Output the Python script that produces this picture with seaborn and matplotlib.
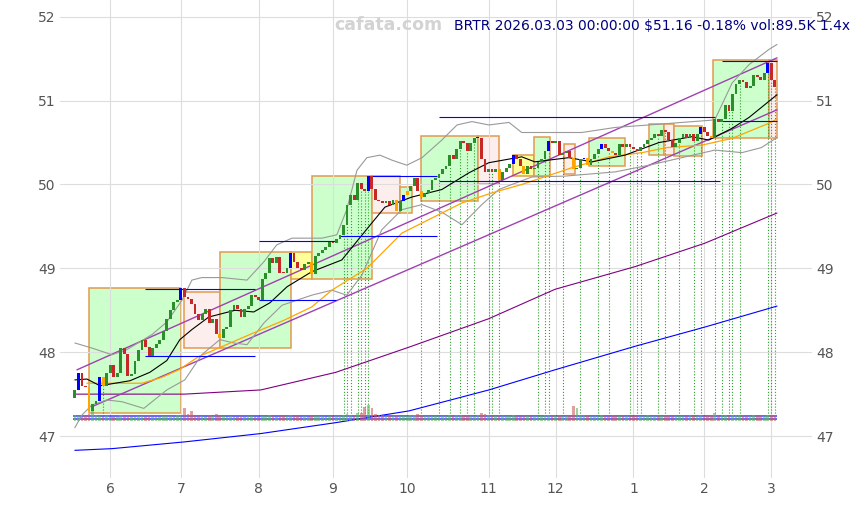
import matplotlib
matplotlib.use("Agg")
import matplotlib.pyplot as plt
from matplotlib.patches import Rectangle
import seaborn as sns
import numpy as np
import pandas as pd

sns.set_theme(style="whitegrid")

# trading days shown on the chart (x axis is the bar index)
holidays = ["2025-05-26", "2025-06-19", "2025-07-04", "2025-09-01", "2025-11-27",
            "2025-12-25", "2026-01-01", "2026-01-19", "2026-02-16"]
dates = pd.bdate_range("2025-05-16", "2026-03-03", freq="C", holidays=holidays)

# daily closes
closes = [
    47.55, 47.75, 47.60, 47.58, 47.30, 47.38, 47.42, 47.70, 47.60, 47.75,
    47.85, 47.70, 47.75, 48.05, 47.98, 47.72, 47.74, 47.90, 48.03, 48.15,
    48.06, 47.95, 48.05, 48.10, 48.14, 48.25, 48.40, 48.50, 48.60, 48.62,
    48.77, 48.66, 48.64, 48.58, 48.46, 48.38, 48.45, 48.52, 48.35, 48.40,
    48.22, 48.17, 48.28, 48.30, 48.50, 48.56, 48.52, 48.42, 48.52, 48.55,
    48.68, 48.66, 48.62, 48.87, 48.95, 49.12, 49.06, 49.13, 48.95, 48.94,
    49.00, 49.18, 49.08, 49.00, 48.98, 49.05, 49.07, 48.93, 49.15, 49.18,
    49.22, 49.25, 49.32, 49.30, 49.35, 49.40, 49.52, 49.75, 49.88, 49.82,
    50.02, 49.95, 49.92, 50.10, 49.95, 49.82, 49.80, 49.78, 49.80, 49.75,
    49.82, 49.68, 49.80, 49.88, 49.92, 49.98, 50.08, 49.92, 49.85, 49.90,
    49.93, 50.05, 50.08, 50.12, 50.18, 50.22, 50.35, 50.30, 50.42, 50.52,
    50.50, 50.40, 50.50, 50.55, 50.56, 50.30, 50.15, 50.18, 50.15, 50.18,
    50.05, 50.15, 50.20, 50.25, 50.35, 50.30, 50.22, 50.12, 50.22, 50.18,
    50.20, 50.27, 50.30, 50.40, 50.52, 50.50, 50.52, 50.35, 50.38, 50.40,
    50.32, 50.18, 50.20, 50.30, 50.32, 50.23, 50.30, 50.36, 50.42, 50.48,
    50.43, 50.40, 50.38, 50.35, 50.48, 50.45, 50.48, 50.45, 50.42, 50.40,
    50.45, 50.48, 50.53, 50.55, 50.60, 50.58, 50.65, 50.62, 50.53, 50.45,
    50.50, 50.55, 50.60, 50.55, 50.60, 50.52, 50.60, 50.68, 50.62, 50.58,
    50.55, 50.78, 50.75, 50.78, 50.95, 50.88, 51.08, 51.20, 51.25, 51.22,
    51.15, 51.18, 51.30, 51.28, 51.25, 51.33, 51.45, 51.25, 51.16,
]
first_open = 47.45

# volume in thousands
volumes = [
    95, 80, 70, 85, 110, 260, 90, 75, 70, 80,
    65, 70, 60, 90, 75, 85, 70, 65, 80, 75,
    70, 85, 60, 65, 70, 75, 80, 85, 70, 90,
    95, 200, 110, 150, 85, 75, 80, 70, 90, 75,
    105, 95, 80, 70, 75, 70, 65, 80, 70, 75,
    80, 70, 65, 85, 75, 90, 80, 70, 85, 75,
    80, 95, 85, 80, 70, 75, 70, 90, 85, 80,
    75, 70, 85, 80, 75, 80, 95, 110, 100, 90,
    120, 130, 220, 240, 200, 110, 95, 90, 85, 80,
    75, 100, 85, 80, 75, 90, 95, 105, 90, 80,
    75, 80, 75, 80, 85, 80, 95, 85, 90, 100,
    85, 90, 80, 85, 95, 120, 105, 90, 85, 80,
    95, 80, 75, 80, 90, 80, 85, 100, 85, 80,
    75, 80, 85, 90, 95, 85, 80, 90, 85, 80,
    85, 230, 200, 95, 90, 100, 85, 80, 85, 90,
    80, 85, 90, 80, 85, 90, 80, 85, 80, 75,
    80, 85, 90, 85, 80, 90, 85, 95, 90, 85,
    80, 85, 80, 85, 90, 85, 80, 95, 85, 80,
    100, 120, 85, 90, 95, 85, 90, 100, 95, 90,
    85, 80, 90, 85, 80, 85, 95, 90, 89.5,
]

blue_idx = [1, 7, 30, 61, 83, 93, 114, 124, 134, 144, 149, 177, 196]
orange_idx = [4, 8, 41, 67, 91, 94, 98, 120, 127, 141, 145, 152, 180]
dotted_idx = [8, 76, 77, 78, 80, 81, 82, 83, 98, 103, 106, 109, 111, 113, 117, 118,
              120, 131, 133, 134, 138, 143, 148, 151, 157, 159, 160, 165, 167, 171,
              175, 177, 181, 183, 185, 186, 188, 196, 197, 198]

# range boxes: start bar, end bar, low, high, kind
box_start = [4, 31, 41, 61, 67, 84, 92, 98, 114, 124, 130, 138.3, 145.4, 162.4, 166.6, 169.4, 180.5, 196.3]
box_end = [30, 41, 61, 67, 84, 92, 95.5, 114, 120, 130, 134.5, 141.4, 155.6, 166.6, 169.4, 177.4, 196.3, 198.6]
box_low = [47.28, 48.05, 48.05, 48.87, 48.87, 49.66, 49.66, 49.80, 50.00, 50.10, 50.10, 50.13, 50.22, 50.35, 50.35, 50.34, 50.56, 50.56]
box_high = [48.77, 48.72, 49.20, 49.20, 50.10, 50.10, 49.97, 50.58, 50.58, 50.35, 50.57, 50.48, 50.56, 50.72, 50.72, 50.70, 51.49, 51.49]
box_kind = ["up", "down", "up", "flat", "up", "down", "up", "up", "down", "flat", "up", "down", "up", "up", "down", "up", "up", "down"]

# support / resistance levels
level_price = [48.75, 47.95, 49.33, 48.62, 50.10, 49.38, 50.80, 50.04, 51.47, 50.76]
level_start = [19.8, 19.8, 52, 52, 83.5, 75, 103, 103, 183, 183]
level_end = [50.9, 50.9, 74, 74, 102.4, 102.4, 181, 182.5, 198.6, 198.6]

# trend channel
chan_up_x = [0.6, 198.6]
chan_up_y = [47.79, 51.51]
chan_lo_x = [4.8, 198.6]
chan_lo_y = [47.35, 50.89]

# moving averages and bands
sma_x = [0, 3.4, 7.1, 15.6, 21.2, 26, 29.7, 33.1, 37.9, 45.3, 50.6, 55.2, 60, 67, 75.5,
         83.2, 87.7, 95.3, 103.8, 111.5, 117.1, 126.4, 130.1, 139.7, 146.3, 155.6,
         165.2, 174.5, 179.3, 185.9, 190.7, 198.6]
sma_y = [47.67, 47.68, 47.60, 47.66, 47.76, 47.90, 48.15, 48.27, 48.42, 48.50, 48.48,
         48.59, 48.78, 48.96, 49.10, 49.50, 49.73, 49.85, 49.94, 50.14, 50.26, 50.33,
         50.27, 50.32, 50.27, 50.35, 50.50, 50.57, 50.53, 50.67, 50.80, 51.07]

ma50_x = [3.4, 10.5, 19, 24.6, 29.4, 35.1, 40.7, 50, 59.1, 67, 72.7, 82.6, 92.5, 101,
          109.5, 118, 126.4, 133.5, 140.6, 151.1, 160.4, 167.5, 177.4, 185.9, 196.3, 198.6]
ma50_y = [47.63, 47.63, 47.63, 47.70, 47.79, 47.95, 48.05, 48.22, 48.38, 48.54, 48.74,
          49.00, 49.42, 49.60, 49.78, 49.90, 50.00, 50.10, 50.20, 50.33, 50.38, 50.44,
          50.47, 50.55, 50.73, 50.78]

ma100_x = [0, 30.9, 52.6, 73.8, 94.5, 117.1, 135.8, 158.4, 178.2, 198.6]
ma100_y = [47.50, 47.50, 47.55, 47.76, 48.06, 48.40, 48.75, 49.02, 49.30, 49.66]

ma200_x = [0, 10.5, 30.9, 52.6, 73.8, 94.5, 117.1, 135.8, 158.4, 178.2, 198.6]
ma200_y = [46.83, 46.85, 46.93, 47.03, 47.16, 47.30, 47.55, 47.79, 48.07, 48.30, 48.55]

bb_up_x = [0, 4.8, 10.5, 14.7, 21.8, 26, 30.3, 33.1, 35.9, 41.6, 48.7, 53.5, 57.1,
           61.4, 69.9, 74.1, 76.9, 79.8, 82.6, 86.3, 89.7, 93.9, 98.2, 103.8, 108.1,
           112.3, 117.1, 122.8, 126.4, 134.1, 143.4, 152.8, 162.4, 171.7, 181, 185.9,
           190.7, 196.3, 198.6]
bb_up_y = [48.11, 48.05, 47.97, 48.03, 48.21, 48.36, 48.62, 48.86, 48.89, 48.89, 48.86,
           49.08, 49.28, 49.36, 49.36, 49.40, 49.70, 50.17, 50.32, 50.35, 50.29, 50.23,
           50.32, 50.53, 50.71, 50.75, 50.71, 50.74, 50.62, 50.62, 50.62, 50.68, 50.71,
           50.74, 50.77, 51.21, 51.43, 51.61, 51.67]

bb_lo_x = [0, 2, 4.8, 9.1, 13.3, 19.5, 26, 31.1, 35.9, 41, 45, 48.7, 53.5, 58.6, 62.8,
           67, 72.7, 76.9, 81.2, 86.8, 92.5, 98.2, 103.8, 109.5, 115.1, 119.9, 123.6,
           129.3, 138.6, 152.8, 162.4, 171.7, 181, 188.7, 194.2, 198.6]
bb_lo_y = [47.10, 47.25, 47.37, 47.43, 47.41, 47.33, 47.55, 47.67, 47.97, 48.15, 48.11,
           48.09, 48.35, 48.56, 48.62, 48.68, 48.74, 48.68, 48.92, 49.46, 49.70, 49.76,
           49.67, 49.52, 49.76, 49.94, 50.00, 50.09, 50.10, 50.15, 50.23, 50.32, 50.41,
           50.38, 50.44, 50.56]

title = "BRTR 2026.03.03 00:00:00 $51.16 -0.18% vol:89.5K 1.4x"

fig = plt.figure(figsize=(8.6, 5.05), dpi=100)
fig.patch.set_facecolor("white")
ax = fig.add_axes([60 / 860, 27 / 505, 752 / 860, 478 / 505])
ax.set_facecolor("white")

x = np.arange(len(closes))
close = np.array(closes)
opn = np.concatenate([[first_open], close[:-1]])
up = close >= opn

fills = {"up": "#ccffcc", "down": "#fdeeee", "flat": "#ffff99"}
for s, e, lo, hi, k in zip(box_start, box_end, box_low, box_high, box_kind):
    ax.add_patch(Rectangle((s, lo), e - s, hi - lo, facecolor=fills[k],
                           edgecolor="#e39a4f", lw=1.1, zorder=0.3))

# volume strip at the bottom
vol = np.array(volumes)
ax.hlines([47.205, 47.235], -0.5, len(x) - 0.5, color="blue", lw=1.2, alpha=0.7, zorder=2)
vol_colors = np.where(up, "#5cb85c", "#d06060")
ax.bar(x, vol * 0.0008, bottom=47.175, width=0.75, color=vol_colors, alpha=0.6,
       linewidth=0, zorder=2.2)

# dotted markers down to the volume strip
lows = np.minimum(close, opn)
ax.vlines(dotted_idx, 47.24, lows[dotted_idx], colors="#2ca02c", linestyles=":", lw=0.8, zorder=2)

ax.hlines(level_price, level_start, level_end, color="blue", lw=0.8, zorder=2.5)

sns.lineplot(x=ma200_x, y=ma200_y, ax=ax, color="blue", linewidth=0.8)
sns.lineplot(x=ma100_x, y=ma100_y, ax=ax, color="purple", linewidth=0.8)
sns.lineplot(x=chan_up_x, y=chan_up_y, ax=ax, color="#a040b0", linewidth=1.0)
sns.lineplot(x=chan_lo_x, y=chan_lo_y, ax=ax, color="#a040b0", linewidth=1.0)
sns.lineplot(x=bb_up_x, y=bb_up_y, ax=ax, color="#999999", linewidth=0.8)
sns.lineplot(x=bb_lo_x, y=bb_lo_y, ax=ax, color="#999999", linewidth=0.8)
sns.lineplot(x=ma50_x, y=ma50_y, ax=ax, color="#ffa500", linewidth=0.9)
sns.lineplot(x=sma_x, y=sma_y, ax=ax, color="black", linewidth=0.8)

# candle bodies
body_colors = np.where(up, "#2a8f2a", "#c62828").astype(object)
body_colors[blue_idx] = "#0000ff"
body_colors[orange_idx] = "#ffa500"
heights = np.maximum(np.abs(close - opn), 0.015)
ax.bar(x, heights, bottom=np.minimum(close, opn), width=0.8, color=list(body_colors),
       linewidth=0, zorder=4)

# month ticks at the first trading day of each month
months = dates.month
tick_pos = [i for i in range(1, len(dates)) if months[i] != months[i - 1]]
ax.set_xticks(tick_pos)
ax.set_xticklabels([str(months[i]) for i in tick_pos])
ax.set_yticks([47, 48, 49, 50, 51, 52])
ax.set_xlim(-4.2, 208.5)
ax.set_ylim(46.5, 52.2)

ax.grid(True, color="#dddddd", lw=0.8)
ax.set_axisbelow(True)
for sp in ax.spines.values():
    sp.set_visible(False)
ax.tick_params(axis="y", labelleft=True, labelright=True, left=False, right=False,
               length=0, labelsize=10, labelcolor="#555555", pad=3)
ax.tick_params(axis="x", bottom=False, length=0, labelsize=10, labelcolor="#555555", pad=3)
ax.set_xlabel("")
ax.set_ylabel("")

fig.text(0.452, 0.950, "cafata.com", ha="center", va="center", fontsize=12.5,
         fontweight="bold", color="#d3d3d3")
fig.text(0.988, 0.948, title, ha="right", va="center", fontsize=10, color="#000080")

fig.savefig("out.png", dpi=100)
plt.close(fig)
